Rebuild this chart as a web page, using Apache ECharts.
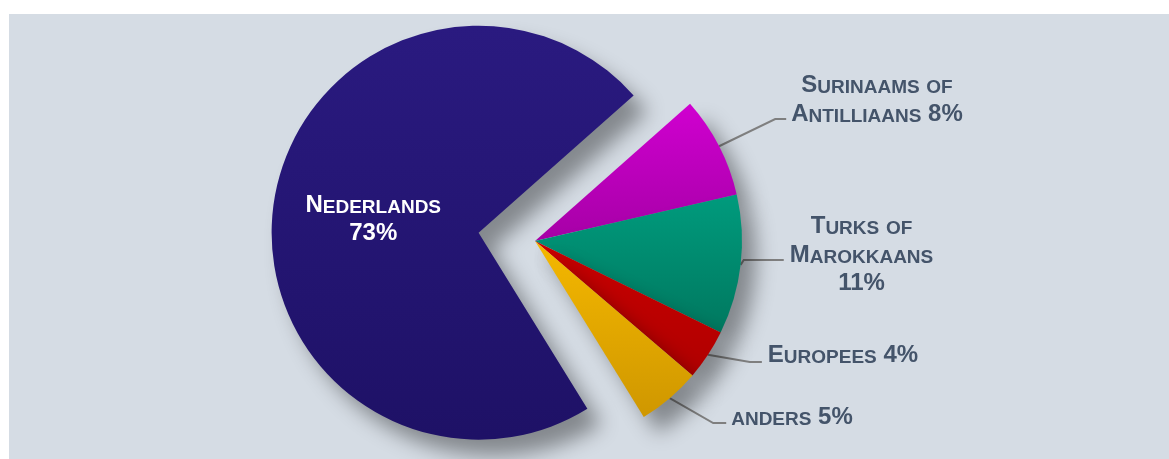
<!DOCTYPE html>
<html>
<head>
<meta charset="utf-8">
<script src="https://cdn.jsdelivr.net/npm/echarts@6/dist/echarts.min.js"></script>
<style>
	html, body { margin: 0; padding: 0; background: #fff; }
	#chart { position: absolute; left: 9px; top: 14px; width: 1160px; height: 445px; background: #d5dce4; }
</style>
</head>
<body>
<div id="chart"></div>
<script>
// herkomst, in procenten
const categories = ["Surinaams of\nAntilliaans", "Turks of\nMarokkaans", "Europees", "anders", "Nederlands"];
const values = [8, 11, 4, 5, 73];
const joins = [" ", "\n", " ", " ", "\n"];

// top / bottom of each slice gradient
const colors = [
	["#d000d0", "#a600a6"],
	["#009b7d", "#00785f"],
	["#c80000", "#b00000"],
	["#f5b800", "#cf9700"],
	["#2a1a80", "#1e1166"],
];

// label box centre in chart px, padding moves the leader line anchor
const labelSpots = [
	{ x: 865.5, y: 105, pad: [0, 0, 42.5, 5], len: 11 },
	{ x: 849.5, y: 246, pad: [0, 0, 14, 6], len: 40 },
	{ x: 831, y: 348, pad: [0, 0, 18, 6], len: 12 },
	{ x: 780.5, y: 409, pad: [0, 0, 15, 5], len: 13 },
	null,
];

const font = "'Liberation Sans', Arial, sans-serif";

// lowercase letters become small capitals
function smallCaps(text) {
	return text.split("\n").map(function (line) {
		return line.replace(/([a-z]+)|([^a-z]+)/g, function (m, lo, up) {
			return lo ? "{s|" + lo.toUpperCase() + "}" : "{b|" + up + "}";
		});
	}).join("\n");
}

function rich(color) {
	return {
		b: { fontSize: 24, fontWeight: "bold", fontFamily: font, color: color, lineHeight: 28.5, verticalAlign: "bottom" },
		s: { fontSize: 19, fontWeight: "bold", fontFamily: font, color: color, lineHeight: 28.5, verticalAlign: "bottom" },
	};
}

let chart = echarts.init(document.getElementById("chart"));

let data = values.map(function (v, i) {
	let item = {
		name: categories[i],
		value: v,
		itemStyle: {
			color: {
				type: "linear", x: 0, y: 0, x2: 0, y2: 1,
				colorStops: [
					{ offset: 0, color: colors[i][0] },
					{ offset: 1, color: colors[i][1] },
				],
			},
		},
	};
	if (labelSpots[i]) {
		item.label = {
			position: "outside",
			color: "#44546a",
			padding: labelSpots[i].pad,
			backgroundColor: "rgba(0,0,0,0)",
			rich: rich("#44546a"),
		};
		item.labelLine = { length2: labelSpots[i].len };
	} else {
		item.selected = true;
		item.label = { position: "inside", color: "#fff", rich: rich("#fff") };
		item.labelLine = { show: false };
	}
	return item;
});

chart.setOption({
	animation: false,
	series: [
		{
			type: "pie",
			center: [526, 227],
			radius: 207,
			startAngle: 41.5,
			clockwise: true,
			selectedMode: "single",
			selectedOffset: 57,
			avoidLabelOverlap: false,
			emphasis: { disabled: true },
			select: { itemStyle: { borderWidth: 0 } },
			itemStyle: {
				borderWidth: 0,
				shadowBlur: 20,
				shadowOffsetX: 14,
				shadowOffsetY: 16,
				shadowColor: "rgba(0, 0, 0, 0.38)",
			},
			label: {
				show: true,
				formatter: function (p) {
					let i = p.dataIndex;
					return smallCaps(categories[i] + joins[i] + values[i] + "%");
				},
			},
			labelLine: {
				show: true,
				length: 15,
				lineStyle: { color: "#7f7f7f", width: 2 },
			},
			labelLayout: function (p) {
				let s = labelSpots[p.dataIndex];
				if (!s) return;
				return { x: s.x, y: s.y, align: "center", verticalAlign: "middle" };
			},
			data: data,
		},
	],
});
</script>
</body>
</html>
